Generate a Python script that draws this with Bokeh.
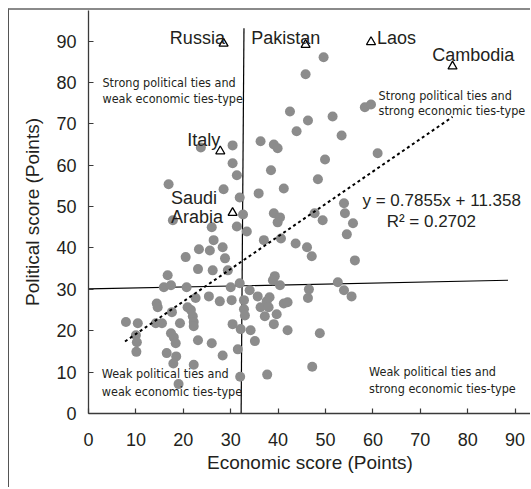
from bokeh.plotting import figure
from bokeh.models import Range1d, FixedTicker
from bokeh.core.properties import value
from bokeh.embed import file_html
from bokeh.resources import INLINE

# ---- data ----
econ = [45.8, 49.6, 42.5, 46.3, 43.9, 51.5, 58.3, 59.6, 53.4, 49.9, 61.0, 36.3, 39.1, 39.9, 23.7, 30.4, 30.4, 31.3, 38.5,
        16.9, 28.5, 31.9, 35.9, 41.2, 48.4, 17.8, 26.0, 31.3, 32.6, 33.4, 39.1, 40.4, 39.9, 47.7, 49.4, 53.9, 54.1, 55.8, 54.5,
        37.0, 40.6, 43.7, 46.1, 47.1, 56.2, 26.4, 28.3, 23.3, 25.6, 20.5, 28.8, 23.1, 26.2, 29.4, 16.7, 39.3, 38.9, 31.9, 40.4,
        52.6, 15.9, 17.4, 20.7, 30.0, 34.0, 46.5, 53.9, 35.7, 38.2, 37.6, 46.3, 55.5, 25.4, 27.7, 30.2, 32.8, 14.4, 14.6, 22.6,
        20.9, 21.6, 32.8, 33.0, 36.3, 38.0, 41.2, 42.0, 17.6, 22.0, 37.2, 39.7, 7.9, 10.4, 14.2, 15.5, 19.3, 22.2, 22.2, 30.4,
        39.1, 32.1, 34.2, 42.0, 17.4, 18.0, 10.0, 10.2, 23.1, 26.0, 35.1, 31.5, 18.4, 48.8,
        10.1, 16.5, 18.5, 17.9, 28.3, 22.2, 19.0, 32.0, 37.7, 47.2]
pol = [82.0, 86.1, 73.0, 70.8, 68.2, 71.8, 74.0, 74.7, 67.2, 61.4, 62.9, 65.8, 65.0, 64.1, 64.3, 64.8, 60.5, 57.6, 58.8,
       55.4, 54.2, 52.2, 53.2, 54.4, 56.6, 46.7, 45.0, 45.2, 48.1, 44.0, 48.4, 47.4, 46.2, 48.4, 46.7, 50.8, 48.4, 46.0, 43.3,
       41.9, 42.3, 41.1, 40.2, 38.0, 37.0, 41.9, 40.2, 39.7, 39.4, 37.8, 37.5, 34.9, 34.6, 34.6, 33.4, 33.2, 32.2, 31.5, 31.0,
       31.7, 30.5, 31.0, 30.5, 30.5, 29.8, 30.0, 29.8, 28.3, 28.1, 27.1, 27.9, 28.3, 28.3, 27.1, 27.4, 27.4, 26.6, 25.7, 27.9,
       25.7, 25.0, 25.2, 23.7, 25.7, 25.7, 26.6, 26.9, 24.5, 23.5, 23.5, 24.0, 22.1, 21.8, 21.8, 21.8, 21.8, 22.1, 21.1, 21.6,
       21.6, 20.4, 20.1, 20.1, 19.4, 18.4, 18.9, 17.2, 17.7, 17.0, 17.5, 15.5, 17.0, 19.4,
       14.9, 14.6, 13.8, 12.1, 14.0, 11.8, 7.1, 8.9, 9.4, 11.3]

country_names = ["Russia", "Pakistan", "Laos", "Cambodia", "Italy", "Saudi Arabia"]
country_econ = [28.5, 45.8, 59.6, 76.8, 27.8, 30.4]
country_pol = [89.4, 89.1, 89.8, 83.9, 63.4, 48.5]

slope, intercept = 0.7855, 11.358
fit_x = [7.7, 76.8]
fit_y = [slope * v + intercept for v in fit_x]

hline_x = [0.0, 88.5]
hline_y = [30.1, 32.2]
vline_x = [32.2, 32.8]
vline_y = [0.0, 93.1]

x_ticks = [0, 10, 20, 30, 40, 50, 60, 70, 80, 90]
y_ticks = [0, 10, 20, 30, 40, 50, 60, 70, 80, 90]

TXT = "#231f20"
FONT = "Liberation Sans"
NARROW = "DejaVu Sans Condensed"

p = figure(width=522, height=479, x_range=Range1d(0, 93.46), y_range=Range1d(0, 97.4),
           output_backend="svg", toolbar_location=None,
           min_border_left=79, min_border_right=0, min_border_top=0, min_border_bottom=76,
           margin=(8, 0, 0, 8))
p.styles = {"border-top": "2px solid #8a8a8a", "border-left": "1px solid #555555"}
p.outline_line_color = None
p.xgrid.grid_line_color = None
p.ygrid.grid_line_color = None
p.background_fill_color = "white"
p.border_fill_color = "white"

for ax, ticks in ((p.xaxis[0], x_ticks), (p.yaxis[0], y_ticks)):
    ax.ticker = FixedTicker(ticks=ticks)
    ax.axis_line_color = "#3a3a3a"
    ax.axis_line_width = 1.3
    ax.major_tick_line_color = "#3a3a3a"
    ax.major_tick_line_width = 1.2
    ax.major_tick_in = 5
    ax.major_tick_out = 0
    ax.minor_tick_line_color = None
    ax.major_label_text_font = FONT
    ax.major_label_text_font_size = "18px"
    ax.major_label_text_color = TXT
    ax.axis_label_text_font = FONT
    ax.axis_label_text_font_size = "19px"
    ax.axis_label_text_font_style = "normal"
    ax.axis_label_text_color = TXT

p.xaxis.axis_label = "Economic score (Points)"
p.yaxis.axis_label = "Political score (Points)"
p.xaxis.major_label_standoff = 19
p.xaxis.axis_label_standoff = 3
p.yaxis.major_label_standoff = 12
p.yaxis.axis_label_standoff = 10

# reference lines
p.line(hline_x, hline_y, line_color="black", line_width=1.2)
p.line(vline_x, vline_y, line_color="black", line_width=1.2)

# countries
p.scatter(econ, pol, size=10, fill_color="#8c8c8c", line_color=None)

# regression
p.line(fit_x, fit_y, line_color="black", line_width=2, line_dash="3 3")

# highlighted countries
p.scatter(country_econ, country_pol, marker="triangle", size=9, fill_color="white",
          line_color="black", line_width=1.3)

label_style = dict(text_font=value(FONT), text_font_size=value("18px"), text_color=TXT,
                   text_baseline="alphabetic")
offsets = [("right", 1.3, -5.6), ("left", -54.3, -6.8), ("left", 6, -4.4),
           ("center", 20.8, -11), ("right", 0, -11)]
for i, (al, xo, yo) in enumerate(offsets):
    p.text(x=[country_econ[i]], y=[country_pol[i]], text=[country_names[i]],
           text_align=al, x_offset=xo, y_offset=yo, **label_style)
saudi_parts = country_names[5].split(" ")
p.text(x=[country_econ[5]], y=[country_pol[5]], text=[saudi_parts[0]],
       text_align="left", x_offset=-61.7, y_offset=-14.4, **label_style)
p.text(x=[country_econ[5]], y=[country_pol[5]], text=[saudi_parts[1]],
       text_align="left", x_offset=-61.7, y_offset=4, **label_style)

# equation
eq_style = dict(text_font=value(FONT), text_font_size=value("17px"), text_color=TXT,
                text_baseline="alphabetic", text_align="left")
p.text(x=[57.8], y=[51.5], text=["y = 0.7855x + 11.358"], **eq_style)
p.text(x=[62.9], y=[46.5], text=["R\u00b2 = 0.2702"], **eq_style)

# quadrant labels
q_style = dict(text_font=value(NARROW), text_font_size=value("12.5px"), text_color=TXT,
               text_baseline="alphabetic", text_align="left")
quads = [
    (2.95, 80.1, "Strong political ties and"), (2.95, 76.2, "weak economic ties-type"),
    (61.2, 76.9, "Strong political ties and"), (61.2, 73.2, "strong economic ties-type"),
    (2.8, 9.6, "Weak political ties and"), (2.8, 5.3, "weak economic ties-type"),
    (59.2, 10.2, "Weak political ties and"), (59.2, 6.1, "strong economic ties-type"),
]
for qx, qy, qt in quads:
    p.text(x=[qx], y=[qy], text=[qt], **q_style)

open("out.html", "w").write(file_html(p, INLINE))
